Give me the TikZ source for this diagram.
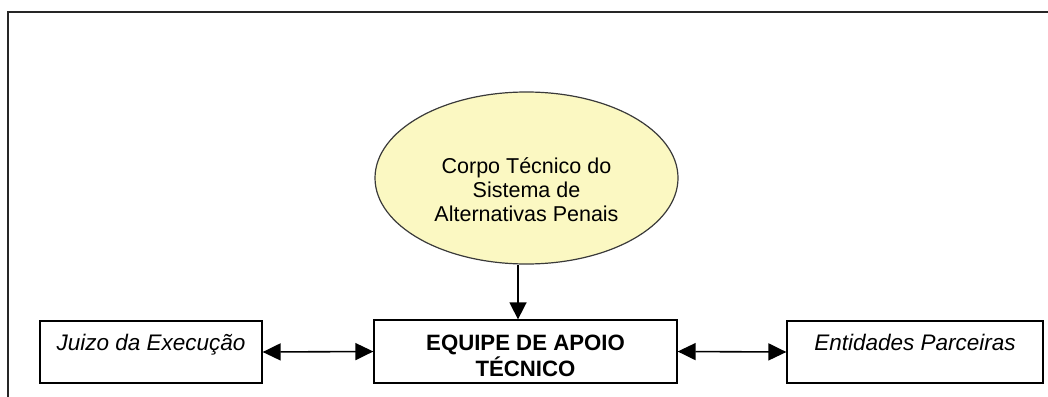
\documentclass[tikz,border=0pt]{standalone}
\usepackage{fontspec}
\setmainfont{Liberation Sans}
\usetikzlibrary{arrows.meta,shapes.geometric}
\definecolor{ellfill}{HTML}{FBF8C2}
\definecolor{ellline}{HTML}{3A3A3A}
\begin{document}
\begin{tikzpicture}[x=1pt,y=-1pt,
  ell/.style={ellipse, draw=ellline, line width=1.2pt, fill=ellfill, inner sep=0pt},
  box/.style={rectangle, draw=black, line width=1.3pt, fill=white, inner sep=0pt},
  txt/.style={inner sep=0pt, align=center, font=\fontsize{21.5}{24}\selectfont},
  boldtxt/.style={inner sep=0pt, align=center, font=\fontsize{22.2}{26}\selectfont\bfseries},
  itxt/.style={inner sep=0pt, align=center, font=\fontsize{22.5}{24.5}\selectfont\itshape},
  link/.style={line width=1.6pt, draw=black},
  hhead/.style={{Triangle[length=18pt,width=17pt]}-{Triangle[length=18pt,width=17pt]}},
  vhead/.style={-{Triangle[length=17pt,width=17pt]}}
]
\useasboundingbox (0,0) rectangle (1048,396);
% outer frame (cropped at right and bottom)
\draw[line width=2pt, draw=black!85] (1060,12.5) -- (8,12.5) -- (8,410);

% ellipse
\node[ell, minimum width=303pt, minimum height=172pt] (corpo) at (526.5,178) {};
\node[txt, anchor=base] (corpot) at (526.5,221) {Corpo Técnico do\\Sistema de\\Alternativas Penais};

% boxes
\node[box, minimum width=222pt, minimum height=62pt] (juizo) at (151,352) {};
\node[box, minimum width=303pt, minimum height=63pt] (equipe) at (525.5,351.5) {};
\node[box, minimum width=256pt, minimum height=62pt] (entid) at (915,352) {};

\node[itxt, anchor=base] (juizot) at (151,350) {Juizo da Execução};
\node[boldtxt, anchor=base] (equipet) at (525.5,376) {EQUIPE DE APOIO\\TÉCNICO};
\node[itxt, anchor=base] (entidt) at (915,350) {Entidades Parceiras};

% connectors
\coordinate (dx) at (518,0);
\draw[link, vhead] (corpo.south -| dx) -- (equipe.north -| dx);
\draw[link, hhead] (juizo.east) -- (equipe.west);
\draw[link, hhead] (equipe.east) -- (entid.west);
\end{tikzpicture}
\end{document}
